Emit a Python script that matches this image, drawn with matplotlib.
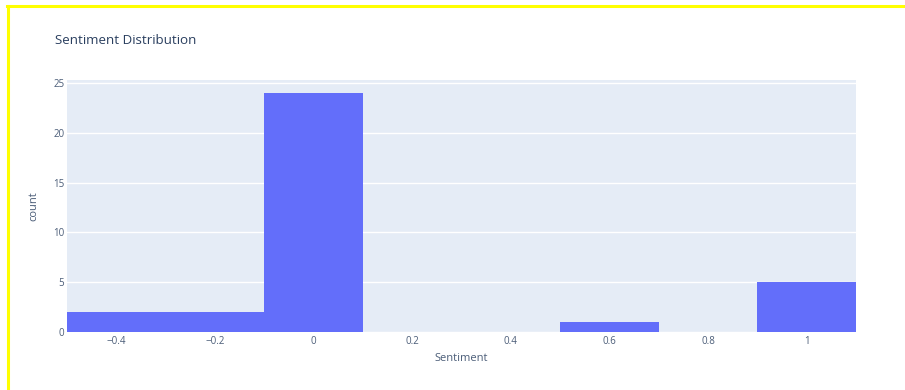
import matplotlib
matplotlib.use("Agg")
import matplotlib.pyplot as plt
from matplotlib.lines import Line2D

# histogram of sentiment scores, bins of width 0.2
bin_starts = [-0.5, -0.3, -0.1, 0.1, 0.3, 0.5, 0.7, 0.9]
counts = [2, 2, 24, 0, 0, 1, 0, 5]
bin_width = 0.2
xticks = [-0.4, -0.2, 0, 0.2, 0.4, 0.6, 0.8, 1]
xtick_labels = ["\u22120.4", "\u22120.2", "0", "0.2", "0.4", "0.6", "0.8", "1"]
yticks = [0, 5, 10, 15, 20, 25]

plt.rcParams['font.family'] = ['Open Sans', 'DejaVu Sans']
text_color = "#2a3f5f"
tick_color = "#4b5d78"

fig = plt.figure(figsize=(9.05, 3.9), dpi=100)
ax = fig.add_axes([67 / 905, 1 - 332 / 390, (856 - 67) / 905, (332 - 80) / 390])
ax.set_facecolor("#E5ECF6")

ax.bar(bin_starts, counts, width=bin_width, align='edge', color="#636efa",
       linewidth=0, zorder=3)

ax.set_xlim(-0.5, 1.1)
ax.set_ylim(0, 25.3)
ax.set_xticks(xticks)
ax.set_xticklabels(xtick_labels)
ax.set_yticks(yticks)
ax.grid(axis='y', color='white', linewidth=1, zorder=0)
ax.set_axisbelow(True)
for s in ax.spines.values():
    s.set_visible(False)
ax.tick_params(length=0, labelsize=7, colors=tick_color)
ax.tick_params(axis='x', pad=3)
ax.tick_params(axis='y', pad=2)

ax.set_xlabel("Sentiment", fontsize=8, color=tick_color, labelpad=4)
ax.set_ylabel("count", fontsize=8, color=tick_color, labelpad=10)

fig.text(55 / 905, 1 - 40 / 390, "Sentiment Distribution", fontsize=9.6,
         color=text_color, va='center', ha='left')

# yellow frame lines along the top and left edges
fig.add_artist(Line2D([7 / 905, 1], [1 - 6 / 390, 1 - 6 / 390], color="#ffff00", linewidth=2.2))
fig.add_artist(Line2D([8 / 905, 8 / 905], [0, 1 - 6 / 390], color="#ffff00", linewidth=2.2))

fig.savefig("out.png", dpi=100)
